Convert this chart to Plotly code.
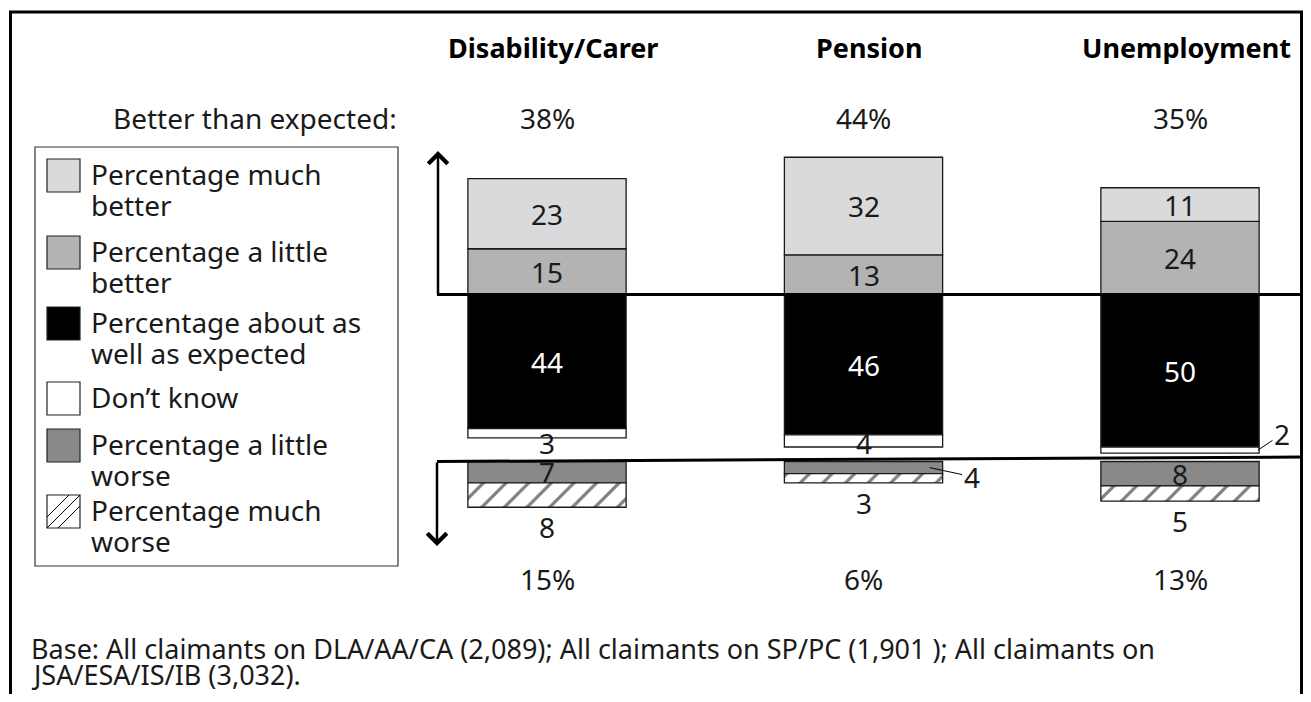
import plotly.graph_objects as go

# データ
categories = ["Disability/Carer", "Pension", "Unemployment"]
much_better = [23, 32, 11]
little_better = [15, 13, 24]
as_expected = [44, 46, 50]
dont_know = [3, 4, 2]
little_worse = [7, 4, 8]
much_worse = [8, 3, 5]
better_total = ["38%", "44%", "35%"]
worse_total = ["15%", "6%", "13%"]
legend_labels = [
    ["Percentage much", "better"],
    ["Percentage a little", "better"],
    ["Percentage about as", "well as expected"],
    ["Don’t know"],
    ["Percentage a little", "worse"],
    ["Percentage much", "worse"],
]
footer = [
    "Base: All claimants on DLA/AA/CA (2,089); All claimants on SP/PC (1,901 ); All claimants on",
    "JSA/ESA/IS/IB (3,032).",
]

OFF = 8  # ページ本体の余白
W, H = 1311 - 2 * OFF, 702 - 2 * OFF
FONT = "Noto Sans"
FS = 28
GAP = -54.75  # 「悪くなった」側の棒の開始位置
Y0, K = 294.5, 3.05  # 基準線の位置と1ポイントあたりの高さ
X0, DX = 547, 316.5

C_MUCH_BETTER = "#d9dadc"
C_LITTLE_BETTER = "#b3b3b3"
C_EXPECTED = "#000000"
C_DK = "#ffffff"
C_LITTLE_WORSE = "#898989"


def px(x):
    return (x - OFF) / W


def py(y):
    return 1 - (y - OFF) / H


fig = go.Figure()

line = dict(color="#1a1a1a", width=1.3)
worse_base = [GAP - lw for lw in little_worse]

fig.add_trace(go.Bar(x=categories, y=little_better, base=[0, 0, 0],
                     marker=dict(color=C_LITTLE_BETTER, line=line)))
fig.add_trace(go.Bar(x=categories, y=much_better, base=little_better,
                     marker=dict(color=C_MUCH_BETTER, line=line)))
fig.add_trace(go.Bar(x=categories, y=as_expected, base=[-v for v in as_expected],
                     marker=dict(color=C_EXPECTED, line=line)))
fig.add_trace(go.Bar(x=categories, y=dont_know,
                     base=[-(a + d) for a, d in zip(as_expected, dont_know)],
                     marker=dict(color=C_DK, line=line)))
fig.add_trace(go.Bar(x=categories, y=little_worse, base=worse_base,
                     marker=dict(color=C_LITTLE_WORSE, line=line)))
fig.add_trace(go.Bar(x=categories, y=much_worse,
                     base=[b - m for b, m in zip(worse_base, much_worse)],
                     marker=dict(color="white", line=line,
                                 pattern=dict(shape="/", fgcolor="black", bgcolor="white",
                                              size=16, solidity=0.2))))

ann = []
txt = dict(family=FONT, size=FS, color="#1a1a1a")
mid = dict(xanchor="center", yanchor="middle", showarrow=False)

for i, c in enumerate(categories):
    # 見出しと合計
    ann.append(dict(x=c, y=py(47), yref="paper", xshift=6, text="<b>%s</b>" % c,
                    font=dict(family=FONT, size=27, color="black"), **mid))
    ann.append(dict(x=c, y=py(118), yref="paper", text=better_total[i], font=txt, **mid))
    ann.append(dict(x=c, y=py(579), yref="paper", text=worse_total[i], font=txt, **mid))

    # 棒の中のラベル
    ann.append(dict(x=c, y=little_better[i] + much_better[i] / 2, text=str(much_better[i]),
                    font=txt, **mid))
    ann.append(dict(x=c, y=little_better[i] / 2, text=str(little_better[i]), font=txt, **mid))
    ann.append(dict(x=c, y=-as_expected[i] / 2, text=str(as_expected[i]),
                    font=dict(family=FONT, size=FS, color="white"), **mid))

    dk_y = -(as_expected[i] + dont_know[i] / 2)
    if dont_know[i] >= 3:
        ann.append(dict(x=c, y=GAP + 6, text=str(dont_know[i]), font=txt, **mid))
    else:
        ann.append(dict(x=c, y=dk_y, xshift=78, text=str(dont_know[i]), showarrow=True,
                        arrowhead=0, arrowwidth=1, arrowcolor="black", ax=24, ay=-16,
                        font=txt))

    lw_y = worse_base[i] + little_worse[i] / 2
    if little_worse[i] >= 5:
        ann.append(dict(x=c, y=lw_y, text=str(little_worse[i]), font=txt, **mid))
    else:
        ann.append(dict(x=c, y=lw_y, xshift=66, text=str(little_worse[i]), showarrow=True,
                        arrowhead=0, arrowwidth=1, arrowcolor="black", ax=42, ay=9,
                        font=txt))

    ann.append(dict(x=c, y=worse_base[i] - much_worse[i], yanchor="top", yshift=1,
                    text=str(much_worse[i]), showarrow=False, font=txt))

# 左側のテキスト
ann.append(dict(x=px(399), y=py(118), xref="paper", yref="paper", xanchor="right",
                yanchor="middle", text="Better than expected:", showarrow=False, font=txt))
for j, t in enumerate(footer):
    ann.append(dict(x=px(29), y=py(648 + 26 * j), xref="paper", yref="paper", xanchor="left",
                    yanchor="middle", text=t, showarrow=False,
                    font=dict(family=FONT, size=27, color="#1a1a1a")))

# 矢印
ann.append(dict(x=px(438), y=py(151), ax=0, ay=145, xref="paper", yref="paper",
                text="", showarrow=True, arrowhead=4,
                arrowwidth=2.5, arrowsize=1.5, arrowcolor="black"))
ann.append(dict(x=px(437), y=py(546), ax=0, ay=-85, xref="paper", yref="paper",
                text="", showarrow=True, arrowhead=4,
                arrowwidth=2.5, arrowsize=1.5, arrowcolor="black"))

shapes = []
# 外枠
shapes.append(dict(type="rect", xref="paper", yref="paper", x0=px(10.5), x1=px(1301.5),
                   y0=py(760), y1=py(12), line=dict(color="black", width=3)))
# 基準線
shapes.append(dict(type="line", xref="paper", yref="y", x0=px(437), x1=px(1301), y0=0, y1=0,
                   line=dict(color="black", width=3)))
shapes.append(dict(type="line", xref="paper", yref="paper", x0=px(437), x1=px(1301),
                   y0=py(461.5), y1=py(457), line=dict(color="black", width=3)))

# 凡例
shapes.append(dict(type="rect", xref="paper", yref="paper", x0=px(35), x1=px(398),
                   y0=py(566), y1=py(147), line=dict(color="#333333", width=1.2)))
sw_tops = [159, 236, 307, 382, 429, 495]
sw_colors = [C_MUCH_BETTER, C_LITTLE_BETTER, C_EXPECTED, C_DK, C_LITTLE_WORSE, "white"]
S = 33
x0, x1 = 47, 47 + S
for top, col, lab in zip(sw_tops, sw_colors, legend_labels):
    shapes.append(dict(type="rect", xref="paper", yref="paper", x0=px(x0), x1=px(x1),
                       y0=py(top + S), y1=py(top), fillcolor=col,
                       line=dict(color="#222222", width=1.2)))
    for j, t in enumerate(lab):
        ann.append(dict(x=px(89), y=py(top + 15 + 31 * j), xref="paper", yref="paper",
                        xanchor="left", yanchor="middle", text=t, showarrow=False, font=txt))
# 斜線
top = sw_tops[-1]
for k in (-11, 0, 11):
    if k < 0:
        a, b = (x0, top + S + k), (x1 + k, top)
    elif k == 0:
        a, b = (x0, top + S), (x1, top)
    else:
        a, b = (x0 + k, top + S), (x1, top + k)
    shapes.append(dict(type="line", xref="paper", yref="paper", x0=px(a[0]), y0=py(a[1]),
                       x1=px(b[0]), y1=py(b[1]), line=dict(color="black", width=1)))

fig.update_layout(
    width=W, height=H,
    margin=dict(l=0, r=0, t=0, b=0),
    barmode="overlay",
    bargap=0.5,
    showlegend=False,
    plot_bgcolor="white", paper_bgcolor="white",
    xaxis=dict(range=[(OFF - X0) / DX, (W + OFF - X0) / DX], visible=False, fixedrange=True),
    yaxis=dict(range=[(Y0 - H - OFF) / K, (Y0 - OFF) / K], visible=False, fixedrange=True),
    annotations=ann,
    shapes=shapes,
)

fig.write_html("out.html")
